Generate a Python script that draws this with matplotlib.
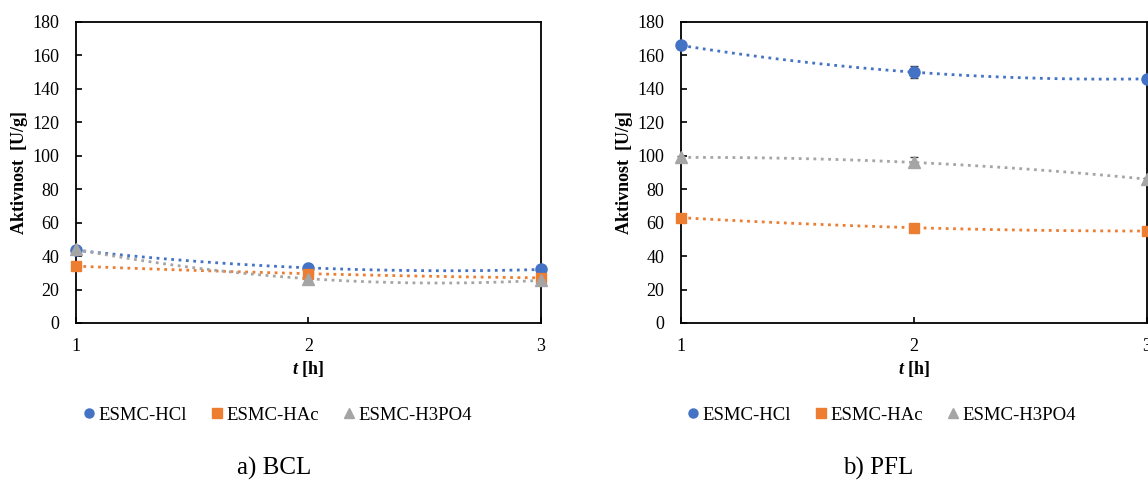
import numpy as np
import matplotlib.pyplot as plt
from matplotlib.lines import Line2D

plt.rcParams['font.family'] = ['Liberation Serif', 'DejaVu Serif']
plt.rcParams['mathtext.fontset'] = 'custom'
plt.rcParams['mathtext.rm'] = 'Liberation Serif'
plt.rcParams['mathtext.bfit'] = 'Liberation Serif:italic:bold'

t = [1, 2, 3]
labels = ['ESMC-HCl', 'ESMC-HAc', 'ESMC-H3PO4']
colors = ['#4472C4', '#ED7D31', '#A5A5A5']
markers = ['o', 's', '^']

# a) BCL
bcl = [[43.5, 33.0, 32.0],
       [34.0, 29.5, 27.0],
       [44.0, 26.5, 25.5]]
bcl_err = [[1.0, 1.0, 1.0],
           [1.0, 1.0, 1.0],
           [1.0, 1.0, 1.0]]
# b) PFL
pfl = [[166.0, 150.0, 146.0],
       [63.0, 57.0, 55.0],
       [99.0, 96.0, 86.0]]
pfl_err = [[2.0, 3.5, 1.5],
           [1.0, 1.0, 1.0],
           [1.0, 3.0, 1.0]]

panels = [('a) BCL', bcl, bcl_err), ('b) PFL', pfl, pfl_err)]

fig = plt.figure(figsize=(11.48, 4.92), dpi=100)
ax_pos = [[0.0662, 0.3435, 0.405, 0.6118], [0.5932, 0.3435, 0.406, 0.6118]]
legend_x = [0.242, 0.768]
caption_x = [0.239, 0.765]

for k, (title, data, err) in enumerate(panels):
    ax = fig.add_axes(ax_pos[k])
    tt = np.linspace(1, 3, 100)
    for i in range(3):
        # Excel polynomial (order 2) trendline
        c = np.polyfit(t, data[i], 2)
        ax.plot(tt, np.polyval(c, tt), ':', color=colors[i], lw=2, zorder=2)
        ax.errorbar(t, data[i], yerr=err[i], fmt=markers[i], color=colors[i],
                    ms=8 if markers[i] != 's' else 7.5, ecolor='#404040', elinewidth=1,
                    capsize=3, zorder=3, clip_on=False)
    ax.set_xlim(1, 3)
    ax.set_ylim(0, 180)
    ax.set_xticks([1, 2, 3])
    ax.set_yticks(range(0, 181, 20))
    ax.tick_params(direction='in', length=4, width=1.2, labelsize=13, pad=12)
    ax.tick_params(axis='x', pad=11)
    for s in ax.spines.values():
        s.set_linewidth(1.3)
    ax.set_ylabel('Aktivnost  [U/g]', fontsize=13, fontweight='bold', labelpad=3)
    ax.set_xlabel(r'$\bfit{t}$ [h]', fontsize=13, fontweight='bold', labelpad=3)

    handles = [Line2D([], [], ls='none', color=colors[i], marker=markers[i], ms=6.5)
               for i in range(3)]
    fig.legend(handles, labels, loc='center', bbox_to_anchor=(legend_x[k], 0.156),
               ncol=3, frameon=False, fontsize=13.5, handlelength=0.6,
               handletextpad=0.2, columnspacing=1.3)
    fig.text(caption_x[k], 0.024, title, ha='center', va='bottom', fontsize=18)

fig.savefig('out.png', dpi=100)
